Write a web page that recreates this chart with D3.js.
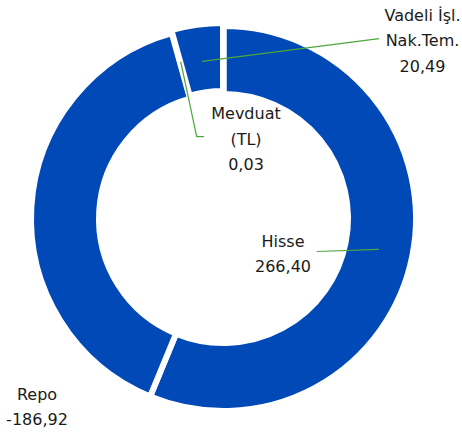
<!DOCTYPE html>
<html lang="tr">

<head>
    <meta charset="UTF-8">
    <title>Donut</title>
    <style>
        body {
            margin: 0;
            padding: 0;
            background: #fff;
        }

        svg {
            display: block;
        }

        .label {
            font-family: "DejaVu Sans", sans-serif;
            font-size: 16px;
            fill: #1a1a1a;
            text-anchor: middle;
        }

        .leader {
            fill: none;
            stroke: #4ea73d;
            stroke-width: 1.2;
        }
    </style>
</head>

<body>
    <svg></svg>
    <script src="https://d3js.org/d3.v7.min.js"></script>
    <script>
        // Data
        const categories = ["Hisse", "Repo", "Vadeli İşl. Nak.Tem.", "Mevduat (TL)"];
        const values = [266.40, -186.92, 20.49, 0.03];
        const valueLabels = ["266,40", "-186,92", "20,49", "0,03"];
        const labelLines = [["Hisse"], ["Repo"], ["Vadeli İşl.", "Nak.Tem."], ["Mevduat", "(TL)"]];

        const width = 462;
        const height = 434;
        const cx = 223.5, cy = 218.5;
        const outerR = 192.5, innerR = 124.5;

        // label layout: x center, first baseline, optional leader end points
        const labelPos = [
            { x: 283, y: 246.5, leader: [[316.7, 251.5]] },
            { x: 37, y: 399.5, leader: null },
            { x: 422.5, y: 20.5, leader: [[379, 38.7]], explode: 3 },
            { x: 246, y: 119, from: [180.7, 61.7], leader: [[196.7, 136.7], [204, 136.7]] }
        ];

        const svg = d3.select("svg")
            .attr("width", width)
            .attr("height", height);

        const data = categories.map((c, i) => ({ name: c, value: values[i], i: i }));

        const pie = d3.pie()
            .sort(null)
            .value(d => Math.abs(d.value));

        const arc = d3.arc()
            .innerRadius(innerR)
            .outerRadius(outerR);

        const arcs = pie(data);

        const g = svg.append("g")
            .attr("transform", `translate(${cx},${cy})`);

        g.selectAll("path")
            .data(arcs)
            .enter()
            .append("path")
            .attr("d", arc)
            .attr("fill", "#0049b7")
            .attr("stroke", "#fff")
            .attr("stroke-width", 6)
            .attr("transform", d => {
                const ex = labelPos[d.data.i].explode || 0;
                if (!ex) return null;
                const a = (d.startAngle + d.endAngle) / 2;
                return `translate(${Math.sin(a) * ex},${-Math.cos(a) * ex})`;
            });

        // leader lines
        const line = d3.line();
        arcs.forEach(d => {
            const p = labelPos[d.data.i];
            if (!p.leader) return;
            let start;
            if (p.from) {
                start = p.from;
            } else {
                const c = arc.centroid(d);
                start = [c[0] + cx, c[1] + cy];
            }
            svg.append("path")
                .attr("class", "leader")
                .attr("d", line([start].concat(p.leader)));
        });

        // labels
        arcs.forEach(d => {
            const i = d.data.i;
            const p = labelPos[i];
            const lines = labelLines[i].concat([valueLabels[i]]);
            const t = svg.append("text")
                .attr("class", "label")
                .attr("x", p.x)
                .attr("y", p.y);
            lines.forEach((s, k) => {
                t.append("tspan")
                    .attr("x", p.x)
                    .attr("dy", k === 0 ? 0 : 25.5)
                    .text(s);
            });
        });
    </script>
</body>

</html>
